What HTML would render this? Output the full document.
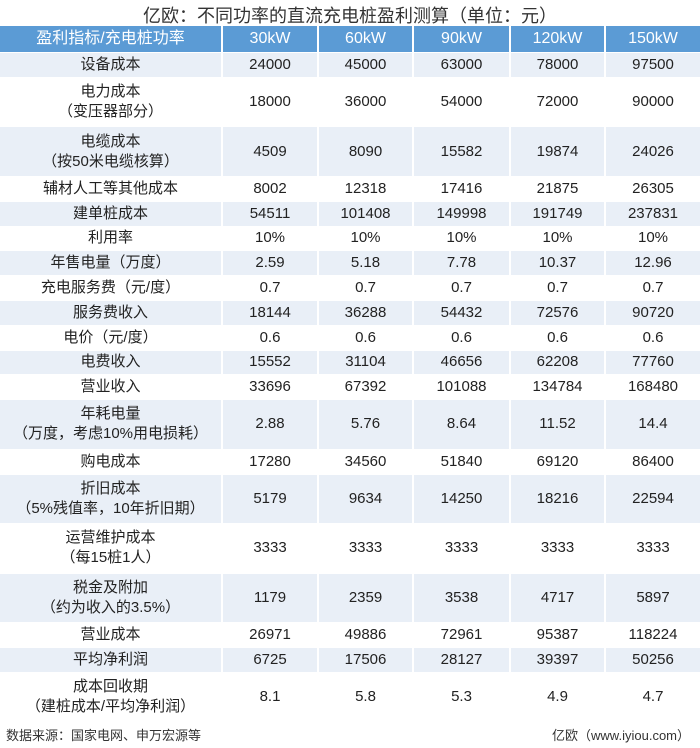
<!DOCTYPE html><html><head><meta charset="utf-8"><style>
body{margin:0;width:700px;height:748px;background:#fff;font-family:"Liberation Sans","Noto Sans CJK SC",sans-serif;color:#222;position:relative;overflow:hidden}
.t{position:absolute;top:2px;left:0;width:700px;text-align:center;font-size:18px;color:#333}
table{position:absolute;top:26px;left:0;width:700px;border-collapse:collapse;table-layout:fixed}
td{text-align:center;font-size:15px;line-height:20px;padding:0;border-right:2px solid #fff;border-bottom:1px solid #fff}
td:last-child{border-right:none}
tr.h td{background:#5b9bd5;color:#fff;height:26px;font-size:16px}
tr.s td{height:23.8px}
tr.d td{height:48.6px}
tr:nth-child(even) td{background:#e9eff7}
.f{position:absolute;top:725px;font-size:13px;color:#333}
</style></head><body>
<div class="t">亿欧：不同功率的直流充电桩盈利测算（单位：元）</div>
<table>
<colgroup><col style="width:222px"><col style="width:96px"><col style="width:95px"><col style="width:97px"><col style="width:95px"><col style="width:95px"></colgroup>
<tr class="h"><td>盈利指标/充电桩功率</td><td>30kW</td><td>60kW</td><td>90kW</td><td>120kW</td><td>150kW</td></tr>
<tr class="s"><td>设备成本</td><td>24000</td><td>45000</td><td>63000</td><td>78000</td><td>97500</td></tr>
<tr class="d"><td>电力成本<br>（变压器部分）</td><td>18000</td><td>36000</td><td>54000</td><td>72000</td><td>90000</td></tr>
<tr class="d"><td>电缆成本<br>（按50米电缆核算）</td><td>4509</td><td>8090</td><td>15582</td><td>19874</td><td>24026</td></tr>
<tr class="s"><td>辅材人工等其他成本</td><td>8002</td><td>12318</td><td>17416</td><td>21875</td><td>26305</td></tr>
<tr class="s"><td>建单桩成本</td><td>54511</td><td>101408</td><td>149998</td><td>191749</td><td>237831</td></tr>
<tr class="s"><td>利用率</td><td>10%</td><td>10%</td><td>10%</td><td>10%</td><td>10%</td></tr>
<tr class="s"><td>年售电量（万度）</td><td>2.59</td><td>5.18</td><td>7.78</td><td>10.37</td><td>12.96</td></tr>
<tr class="s"><td>充电服务费（元/度）</td><td>0.7</td><td>0.7</td><td>0.7</td><td>0.7</td><td>0.7</td></tr>
<tr class="s"><td>服务费收入</td><td>18144</td><td>36288</td><td>54432</td><td>72576</td><td>90720</td></tr>
<tr class="s"><td>电价（元/度）</td><td>0.6</td><td>0.6</td><td>0.6</td><td>0.6</td><td>0.6</td></tr>
<tr class="s"><td>电费收入</td><td>15552</td><td>31104</td><td>46656</td><td>62208</td><td>77760</td></tr>
<tr class="s"><td>营业收入</td><td>33696</td><td>67392</td><td>101088</td><td>134784</td><td>168480</td></tr>
<tr class="d"><td>年耗电量<br>（万度，考虑10%用电损耗）</td><td>2.88</td><td>5.76</td><td>8.64</td><td>11.52</td><td>14.4</td></tr>
<tr class="s"><td>购电成本</td><td>17280</td><td>34560</td><td>51840</td><td>69120</td><td>86400</td></tr>
<tr class="d"><td>折旧成本<br>（5%残值率，10年折旧期）</td><td>5179</td><td>9634</td><td>14250</td><td>18216</td><td>22594</td></tr>
<tr class="d"><td>运营维护成本<br>（每15桩1人）</td><td>3333</td><td>3333</td><td>3333</td><td>3333</td><td>3333</td></tr>
<tr class="d"><td>税金及附加<br>（约为收入的3.5%）</td><td>1179</td><td>2359</td><td>3538</td><td>4717</td><td>5897</td></tr>
<tr class="s"><td>营业成本</td><td>26971</td><td>49886</td><td>72961</td><td>95387</td><td>118224</td></tr>
<tr class="s"><td>平均净利润</td><td>6725</td><td>17506</td><td>28127</td><td>39397</td><td>50256</td></tr>
<tr class="d"><td>成本回收期<br>（建桩成本/平均净利润）</td><td>8.1</td><td>5.8</td><td>5.3</td><td>4.9</td><td>4.7</td></tr>
</table>
<div class="f" style="left:6px">数据来源：国家电网、申万宏源等</div>
<div class="f" style="right:10px">亿欧（www.iyiou.com）</div>
</body></html>
